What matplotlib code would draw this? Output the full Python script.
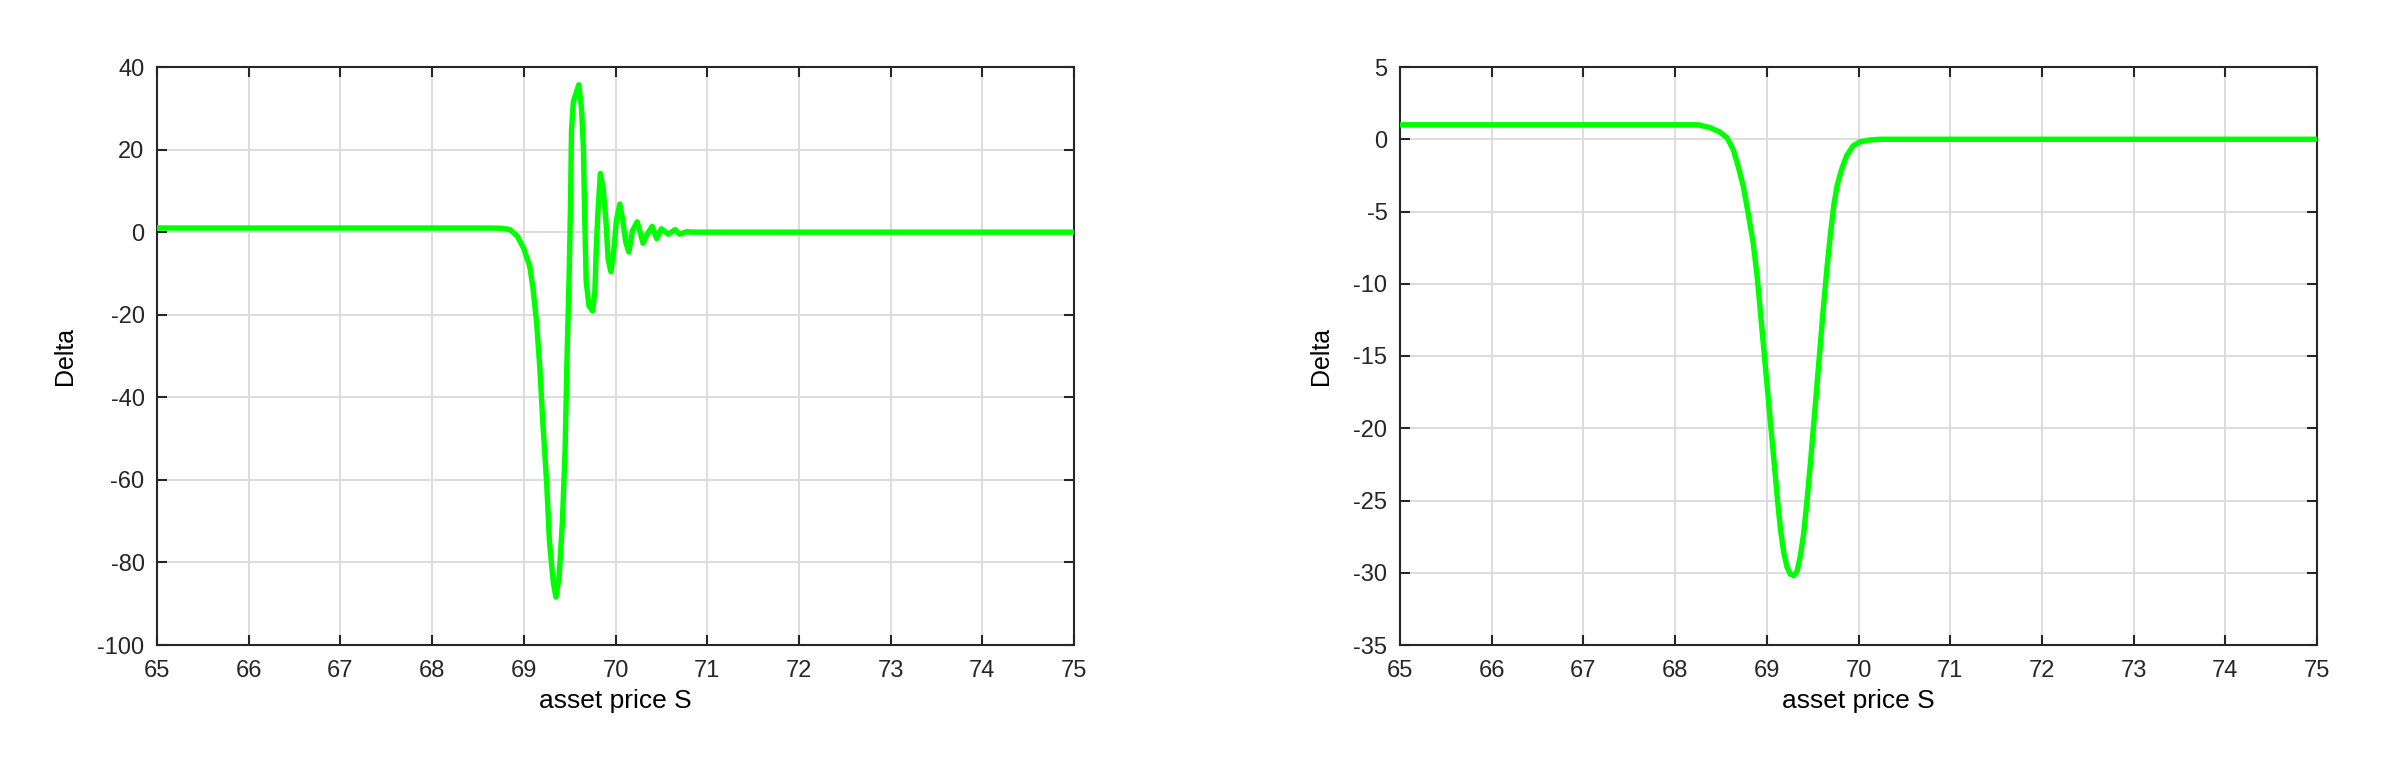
import matplotlib
matplotlib.use("Agg")
import matplotlib.pyplot as plt

# Delta values
left_s = [65.0, 68.6, 68.75, 68.85, 68.93, 69.0, 69.065, 69.10, 69.14, 69.175,
          69.21, 69.25, 69.28, 69.32, 69.35, 69.385, 69.42, 69.45, 69.47, 69.495,
          69.51, 69.52, 69.54, 69.575, 69.60, 69.63, 69.65, 69.665, 69.68, 69.71,
          69.75, 69.775, 69.79, 69.81, 69.835, 69.865, 69.895, 69.92, 69.95, 69.98,
          70.01, 70.047, 70.08, 70.11, 70.145, 70.185, 70.236, 70.265, 70.30, 70.345,
          70.40, 70.45, 70.50, 70.575, 70.65, 70.70, 70.775, 70.85, 75.0]
left_delta = [1.0, 1.0, 0.95, 0.6, -1.0, -4.0, -8.3, -13.5, -22, -33,
              -47, -61, -75, -84.5, -88.4, -83.6, -70.6, -53, -31.7, -10,
              7.3, 24.6, 31.5, 34, 35.7, 29.8, 20.3, 2.9, -11.8, -17.8,
              -19.1, -14.4, -4, 5.5, 14.2, 10.7, 2.9, -6.6, -9.6, -4.8,
              2.9, 6.8, 2.9, -2.3, -4.8, 0.3, 2.5, 0.3, -2.7, -0.5,
              1.4, -1.6, 0.8, -0.5, 0.6, -0.5, 0.1, 0.0, 0.0]

right_s = [65.0, 68.25, 68.378, 68.487, 68.567, 68.633, 68.687, 68.742, 68.796, 68.851,
           68.895, 68.931, 68.967, 69.004, 69.04, 69.076, 69.113, 69.149, 69.185, 69.22,
           69.258, 69.295, 69.33, 69.367, 69.404, 69.44, 69.476, 69.513, 69.55, 69.585,
           69.622, 69.658, 69.695, 69.73, 69.767, 69.815, 69.87, 69.94, 70.015, 70.124,
           70.233, 75.0]
right_delta = [1.0, 1.0, 0.81, 0.5, 0.1, -0.7, -1.85, -3.2, -5.1, -7.15,
               -9.5, -12, -14.5, -17.1, -19.6, -22.1, -24.7, -27, -28.6, -29.6,
               -30.1, -30.2, -29.9, -28.8, -27.2, -24.9, -22.4, -19.6, -16.8, -14.1,
               -11.3, -8.8, -6.5, -4.6, -3.2, -2.1, -1.15, -0.46, -0.18, -0.05,
               0.0, 0.0]

x_ticks = list(range(65, 76))
left_yticks = list(range(-100, 41, 20))
right_yticks = list(range(-35, 6, 5))

plt.rcParams.update({"font.family": "Liberation Sans", "font.size": 17,
                     "axes.unicode_minus": False,
                     "text.color": "#262626", "xtick.color": "#262626",
                     "ytick.color": "#262626"})
fig = plt.figure(figsize=(23.96, 7.71), dpi=100)
W, H = 2396, 771

panels = [(157, left_s, left_delta, left_yticks), (1400, right_s, right_delta, right_yticks)]
for x0, xs, ys, yt in panels:
    ax = fig.add_axes([x0 / W, 1 - 645 / H, 917 / W, 578 / H])
    ax.plot(xs, ys, color="#00ff00", lw=3.9, zorder=3)
    ax.set_xlim(65, 75)
    ax.set_ylim(yt[0], yt[-1])
    ax.set_xticks(x_ticks)
    ax.set_yticks(yt)
    ax.grid(color="#dddddd", lw=1.4)
    ax.set_axisbelow(True)
    ax.tick_params(direction="in", length=7, width=1.5, top=True, right=True,
                   labelsize=17, pad=9)
    ax.tick_params(axis="x", pad=11)
    for sp in ax.spines.values():
        sp.set_color("#262626")
        sp.set_linewidth(1.5)
    ax.set_xlabel("asset price S", fontsize=19, labelpad=5)
    ax.set_ylabel("Delta", fontsize=18, labelpad=15)

fig.savefig("out.png", dpi=100)
